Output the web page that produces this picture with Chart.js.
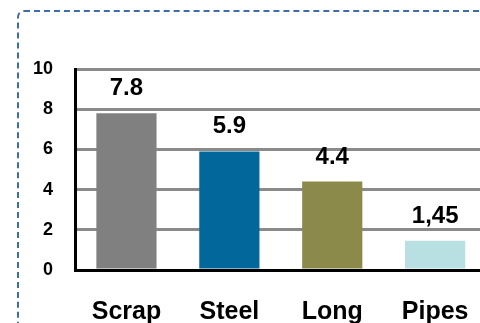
<!DOCTYPE html>
<html>
<head>
<meta charset="utf-8">
<script src="https://cdn.jsdelivr.net/npm/chart.js@4"></script>
<style>
  html, body { margin: 0; padding: 0; background: #fff; overflow: hidden; }
  #frame {
    position: absolute; left: 17px; top: 10px; width: 520px; height: 360px;
    border: 2px dashed #3c6ea8; border-radius: 7px;
  }
  #wrap { position: absolute; left: 0; top: 0; width: 496px; height: 354px; }
</style>
</head>
<body>
<div id="frame"></div>
<div id="wrap"><canvas id="barChart"></canvas></div>
<script>
const categories = ["Scrap", "Steel", "Long", "Pipes"];
const values = [7.8, 5.9, 4.4, 1.45];
const valueLabels = ["7.8", "5.9", "4.4", "1,45"];
const barColors = ["#808080", "#02679a", "#8c8a4a", "#b8dfe2"];
const yTicks = [0, 2, 4, 6, 8, 10];

// writes each value above its bar
const barLabels = {
    id: "barLabels",
    afterDatasetsDraw(chart) {
        const ctx = chart.ctx;
        const meta = chart.getDatasetMeta(0);
        ctx.save();
        ctx.font = "bold 24px 'Liberation Sans', Arial, sans-serif";
        ctx.fillStyle = "#000";
        ctx.textAlign = "center";
        ctx.textBaseline = "alphabetic";
        meta.data.forEach((bar, i) => {
            ctx.fillText(valueLabels[i], bar.x, bar.y - 18);
        });
        ctx.restore();
    }
};

new Chart(document.getElementById("barChart"), {
    type: "bar",
    data: {
        labels: categories,
        datasets: [{
            data: values,
            backgroundColor: barColors,
            barPercentage: 0.585,
            categoryPercentage: 1
        }]
    },
    options: {
        responsive: true,
        maintainAspectRatio: false,
        animation: false,
        layout: { padding: { top: 69, right: 4, bottom: 0, left: 0 } },
        plugins: {
            legend: { display: false },
            tooltip: { enabled: false }
        },
        scales: {
            x: {
                grid: { display: false, drawTicks: false },
                border: { color: "#000", width: 3 },
                ticks: {
                    color: "#000",
                    padding: 27,
                    font: { family: "'Liberation Sans', Arial, sans-serif", size: 25, weight: "bold" }
                }
            },
            y: {
                min: 0,
                max: 10,
                afterBuildTicks: (scale) => { scale.ticks = yTicks.map(v => ({ value: v })); },
                afterFit: (scale) => { scale.width = 75; },
                grid: { color: "#8a8a8a", lineWidth: 3, drawTicks: false },
                border: { color: "#000", width: 3 },
                ticks: {
                    color: "#000",
                    padding: 22,
                    font: { family: "'Liberation Sans', Arial, sans-serif", size: 18, weight: "bold" }
                }
            }
        }
    },
    plugins: [barLabels]
});
</script>
</body>
</html>
